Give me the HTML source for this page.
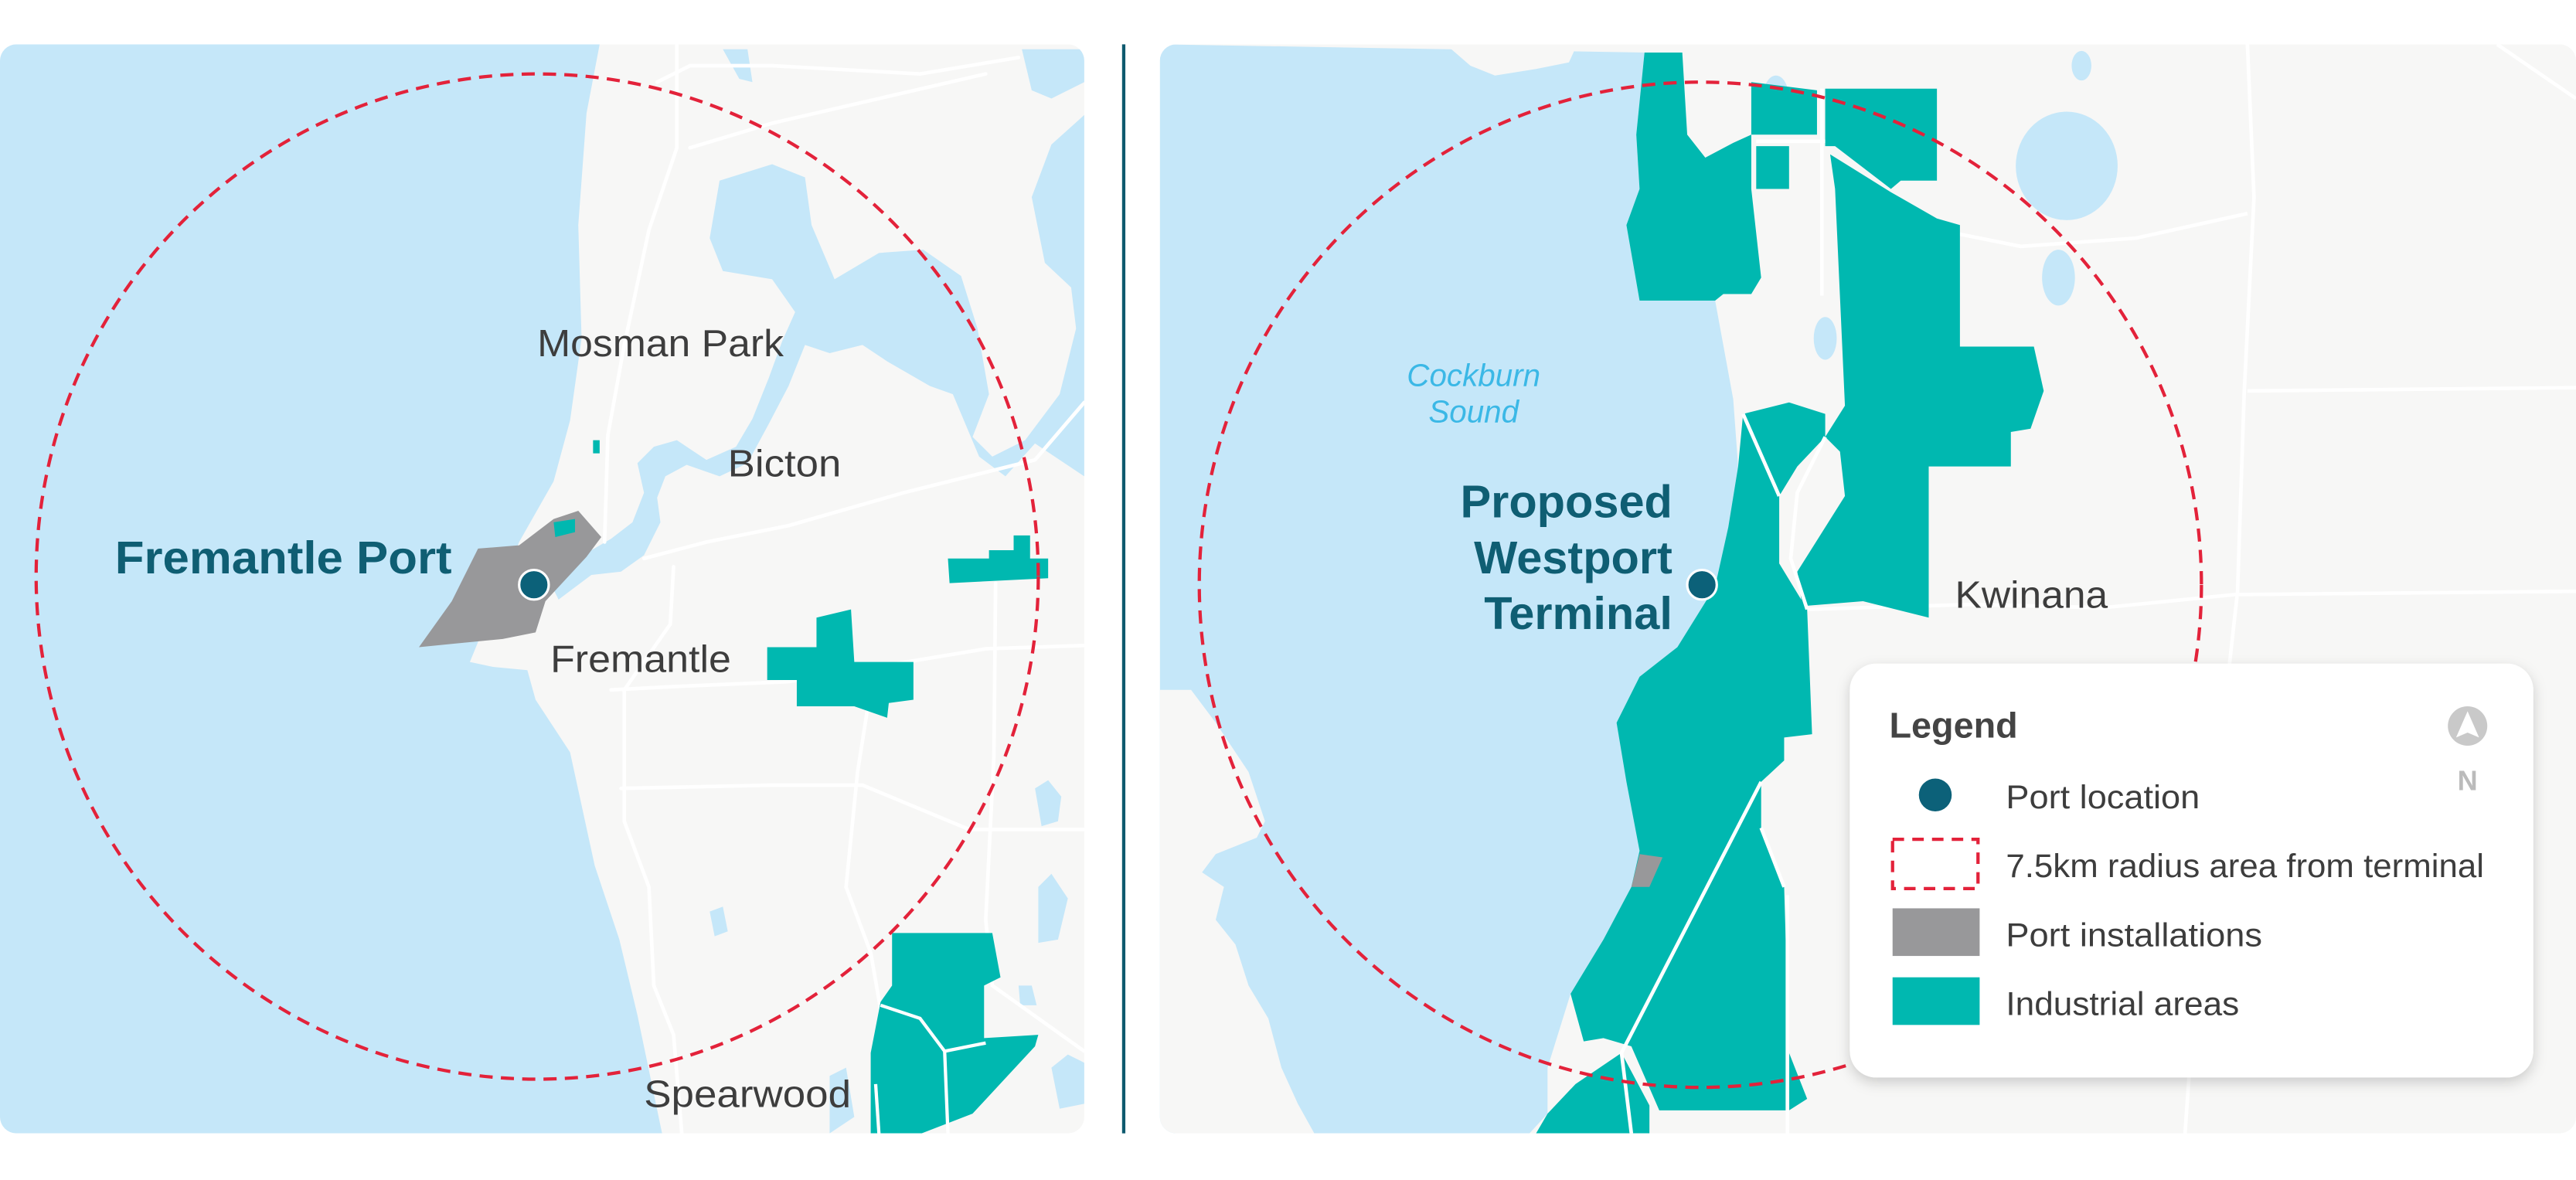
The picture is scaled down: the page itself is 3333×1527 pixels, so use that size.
<!DOCTYPE html>
<html><head><meta charset="utf-8"><style>
html,body{margin:0;padding:0;background:#fff;width:3333px;height:1527px;overflow:hidden}
svg{display:block}
text{font-family:"Liberation Sans",sans-serif}
</style></head><body>
<svg width="3333" height="1527" viewBox="0 0 1568 718.4" preserveAspectRatio="none" xmlns="http://www.w3.org/2000/svg">
<defs>
<clipPath id="cl"><rect x="0" y="27" width="660" height="663" rx="10"/></clipPath>
<clipPath id="cr"><rect x="706" y="27" width="862" height="663" rx="10"/></clipPath>
<filter id="sh" x="-10%" y="-10%" width="120%" height="130%"><feDropShadow dx="0" dy="3" stdDeviation="4" flood-color="#000" flood-opacity="0.18"/></filter>
</defs>
<rect width="1568" height="718.4" fill="#fff"/>

<!-- LEFT PANEL -->
<g clip-path="url(#cl)">
<rect x="0" y="27" width="660" height="663" fill="#f7f7f6"/>
<polygon fill="#c5e7f9" points="0,27 365,27 357,69 352,137 354,206 347,256 337,293 316,330 286,403 300,406 321,408 326,426 347,458 352,481 362,527 377,572 388,618 403,690 0,690"/>
<path fill="#c5e7f9" d="M330,345 L360,335 L372,328 L385,318 L392,300 L388,282 L398,272 L412,268 L430,280 L448,272 L458,255 L468,230 L476,208 L484,190 L470,170 L440,165 L432,145 L438,110 L470,100 L490,108 L494,137 L508,170 L535,154 L562,152 L585,168 L595,200 L602,240 L592,266 L604,278 L624,268 L645,240 L655,200 L652,175 L636,160 L628,120 L640,88 L660,70 L660,290 L630,270 L612,290 L596,278 L580,240 L566,235 L540,220 L525,210 L505,215 L490,210 L480,235 L468,258 L455,282 L438,290 L418,283 L405,290 L400,303 L402,318 L392,338 L378,348 L360,350 L340,365 Z"/>
<path fill="#c5e7f9" d="M440,30 L455,30 L458,50 L450,48 Z M622,30 L660,30 L660,50 L640,60 L628,55 Z M505,655 L515,650 L520,680 L505,690 Z M630,480 l8,-5 l8,10 l-2,15 l-10,3 z M632,540 l8,-8 l10,15 l-6,25 l-12,2 z M432,555 l8,-3 l3,15 l-8,3 z M640,650 l10,-8 l10,5 l0,25 l-15,3 z M620,600 l8,0 l3,12 l-10,0 z"/>
<g stroke="#fff" stroke-width="2.2" fill="none" stroke-linecap="round">
<path d="M372,420 L410,418 L480,415 L540,405 L600,395 L660,393"/>
<path d="M378,480 L470,478 L525,478 L590,505 L660,505"/>
<path d="M410,345 L408,380 L380,420 L380,500 L395,540 L398,600 L410,630 L415,690"/>
<path d="M528,432 L522,470 L515,540 L530,580 L537,620"/>
<path d="M606,355 L605,460 L600,560 L604,600 L660,640"/>
<path d="M392,340 L430,330 L480,320 L550,300 L630,280 L660,245"/>
<path d="M400,50 L420,40 L470,40 L560,45 L620,35"/>
<path d="M412,27 L412,90 L395,140 L380,210 L370,265 L368,330"/>
<path d="M420,90 L470,75 L600,45"/>
</g>
<polygon fill="#98989a" points="291,334 316,332 337,316 352,311 366,327 357,339 332,366 326,385 306,389 275,392 255,394 275,366"/>
<polygon fill="#00b8b0" points="337,318 350,316 350,324 338,327"/>
<polygon fill="#00b8b0" points="361,268 365,268 365,276 361,276"/>
<polygon fill="#00b8b0" points="577,340 602,340 602,335 617,335 617,326 627,326 627,340 638,340 638,352 578,355"/>
<polygon fill="#00b8b0" points="467,394 497,394 497,376 518,371 520,403 556,403 556,426 541,428 540,437 520,430 485,430 485,414 467,414"/>
<polygon fill="#00b8b0" points="543,568 604,568 609,595 599,600 599,632 632,630 630,637 592,678 561,690 530,690 530,641 536,610 543,600"/>
<g stroke="#fff" stroke-width="2" fill="none"><path d="M536,612 L560,620 L575,640 L600,635"/><path d="M575,640 L577,690"/><path d="M533,660 L535,690"/></g>
</g>
<ellipse cx="327" cy="351" rx="305" ry="306" fill="none" stroke="#e3223a" stroke-width="2" stroke-dasharray="8,5"/>
<circle cx="325" cy="356" r="9" fill="#0c6179" stroke="#fff" stroke-width="1.5"/>
<text x="70" y="349" font-size="28" font-weight="bold" fill="#0f5e73" textLength="205" lengthAdjust="spacingAndGlyphs">Fremantle Port</text>
<g font-size="23" fill="#3d3d3d">
<text x="327" y="217" textLength="150" lengthAdjust="spacingAndGlyphs">Mosman Park</text>
<text x="443" y="290" textLength="69" lengthAdjust="spacingAndGlyphs">Bicton</text>
<text x="335" y="409" textLength="110" lengthAdjust="spacingAndGlyphs">Fremantle</text>
<text x="392" y="674" textLength="126" lengthAdjust="spacingAndGlyphs">Spearwood</text>
</g>

<rect x="683" y="27" width="2" height="663" fill="#0e5a6e"/>

<!-- RIGHT PANEL -->
<g clip-path="url(#cr)">
<rect x="706" y="27" width="862" height="663" fill="#f7f7f6"/>
<polygon fill="#c5e7f9" points="706,27 1001,32 996,82 998,115 990,137 998,183 1044,183 1055,243 1058,284 1052,321 1044,357 1021,394 998,412 984,440 990,476 998,518 993,540 976,572 956,605 942,650 942,678 931,690 706,690"/>
<path fill="#f7f7f6" d="M880,27 L960,27 L955,38 L935,42 L910,46 L895,40 Z"/>
<path fill="#f7f7f6" d="M706,420 L725,420 L740,440 L760,470 L770,500 L765,510 L740,520 L725,540 L706,540 Z"/>
<path fill="#f7f7f6" d="M706,527 L730,530 L745,540 L740,560 L752,575 L760,600 L772,620 L780,650 L790,672 L800,690 L706,690 Z"/>
<ellipse cx="1258" cy="101" rx="31" ry="33" fill="#c5e7f9"/>
<ellipse cx="1267" cy="40" rx="6" ry="9" fill="#c5e7f9"/>
<ellipse cx="1253" cy="169" rx="10" ry="17" fill="#c5e7f9"/>
<ellipse cx="1111" cy="206" rx="7" ry="13" fill="#c5e7f9"/>
<ellipse cx="1081" cy="60" rx="8" ry="14" fill="#c5e7f9"/>
<g stroke="#fff" stroke-width="2.2" fill="none">
<path d="M1368,27 L1372,120 L1366,240 L1362,360 L1352,450 L1340,550 L1330,690"/>
<path d="M1368,238 L1568,236"/>
<path d="M1100,371 L1200,368 L1280,370 L1360,362 L1568,360"/>
<path d="M1180,140 L1230,150 L1300,145 L1368,130"/>
<path d="M1520,27 L1568,60"/>
</g>
<g fill="#00b8b0">
<polygon points="1001,32 1024,32 1027,82 1038,96 1055,87 1066,82 1066,115 1072,169 1066,179 1049,179 1044,183 998,183 990,137 998,115 996,82"/>
<polygon points="1066,50 1106,55 1106,82 1066,82"/>
<polygon points="1111,54 1179,54 1179,110 1157,110 1151,115 1117,89 1111,89"/>
<polygon points="1069,89 1089,89 1089,115 1069,115"/>
<polygon points="1114,94 1151,117 1179,133 1193,137 1193,211 1238,211 1244,238 1236,261 1224,263 1224,284 1174,284 1174,376 1134,366 1097,369 1094,348 1123,302 1120,275 1111,266 1123,247 1117,115"/>
<polygon points="1061,252 1089,245 1111,252 1111,266 1094,284 1083,302 1083,343 1100,371 1103,447 1086,449 1086,463 1072,476 1072,504 1086,540 1089,641 1100,669 1089,676 1010,676 993,637 976,632 964,634 956,605 976,572 993,540 998,518 990,476 984,440 998,412 1021,394 1044,357 1052,321 1058,284"/>
<polygon points="942,678 959,660 987,641 1004,673 1004,690 935,690"/>
</g>
<g stroke="#fff" stroke-width="2.2" fill="none">
<path d="M1061,252 L1083,302"/>
<path d="M1111,266 L1094,300 L1090,340 L1100,371"/>
<path d="M1072,476 L987,641 L993,690"/>
<path d="M1086,540 L1072,504"/>
<path d="M1088,545 L1088,690"/>
<path d="M1069,86 L1111,86"/>
<path d="M1109,54 L1109,180"/>
</g>
<polygon fill="#98989a" points="998,520 1012,522 1004,540 993,540"/>
</g>
<ellipse cx="1035" cy="356" rx="305" ry="306" fill="none" stroke="#e3223a" stroke-width="2" stroke-dasharray="8,5"/>
<circle cx="1036" cy="356" r="9" fill="#0c6179" stroke="#fff" stroke-width="1.5"/>
<g font-size="19" font-style="italic" fill="#3bb8e6" text-anchor="middle">
<text x="897" y="235">Cockburn</text><text x="897" y="257">Sound</text>
</g>
<g font-size="28" font-weight="bold" fill="#0f5e73" text-anchor="end">
<text x="1018" y="315">Proposed</text><text x="1018" y="349">Westport</text><text x="1018" y="383">Terminal</text>
</g>
<text x="1190" y="370" font-size="23" fill="#3d3d3d" textLength="93" lengthAdjust="spacingAndGlyphs">Kwinana</text>

<rect x="1126" y="404" width="416" height="252" rx="16" fill="#fff" filter="url(#sh)"/>
<text x="1150" y="449" font-size="22" font-weight="bold" fill="#444">Legend</text>
<circle cx="1502" cy="442" r="12" fill="#c9c9c9"/>
<polygon points="1502,433 1509,449 1502,446 1495,449" fill="#fff"/>
<text x="1502" y="481" font-size="17" font-weight="bold" fill="#bbb" text-anchor="middle">N</text>
<circle cx="1178" cy="484" r="10" fill="#0c6179"/>
<rect x="1152" y="511" width="52" height="30" fill="none" stroke="#e3223a" stroke-width="2" stroke-dasharray="7,5"/>
<rect x="1152" y="553" width="53" height="29" fill="#98989a"/>
<rect x="1152" y="595" width="53" height="29" fill="#00b8b0"/>
<g font-size="20" fill="#3d3d3d">
<text x="1221" y="492" textLength="118" lengthAdjust="spacingAndGlyphs">Port location</text>
<text x="1221" y="534" textLength="291" lengthAdjust="spacingAndGlyphs">7.5km radius area from terminal</text>
<text x="1221" y="576" textLength="156" lengthAdjust="spacingAndGlyphs">Port installations</text>
<text x="1221" y="618" textLength="142" lengthAdjust="spacingAndGlyphs">Industrial areas</text>
</g>
</svg>
</body></html>
